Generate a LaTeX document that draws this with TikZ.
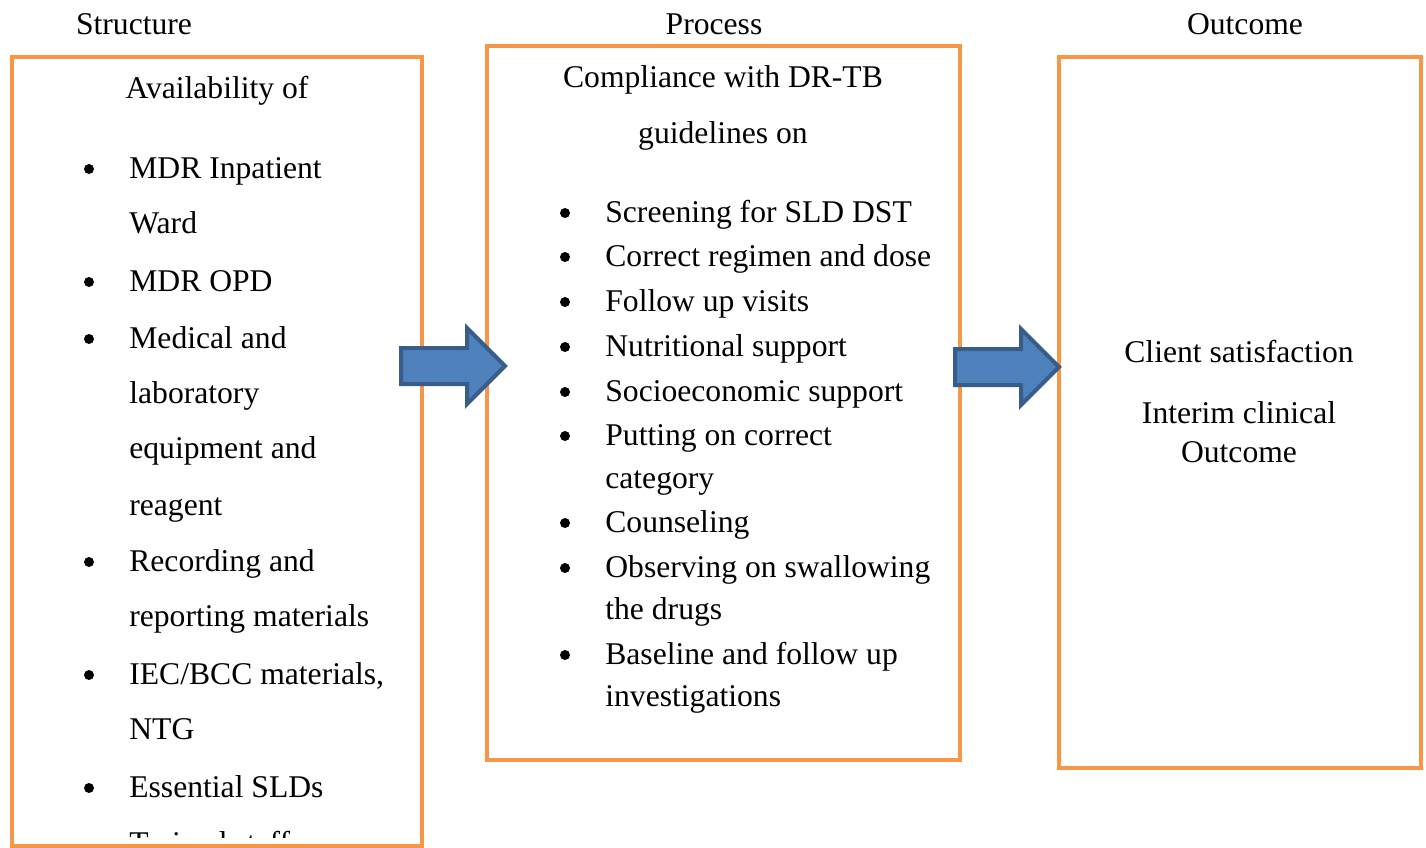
\documentclass[tikz,border=0pt]{standalone}
\usepackage{fontspec}
\setmainfont{Liberation Serif}
\usetikzlibrary{positioning}
\definecolor{frameorange}{HTML}{F79646}
\definecolor{flowfill}{HTML}{4F81BD}
\definecolor{flowline}{HTML}{385D8A}
\tikzstyle{frame} = [rectangle, draw=frameorange, line width=0.08cm, anchor=north west, inner sep=0pt, outer sep=0pt]
\tikzstyle{head} = [anchor=base, inner sep=0pt]
\tikzstyle{item} = [anchor=base west, inner sep=0pt]
\tikzstyle{dot} = [circle, fill=black, inner sep=0pt, minimum size=0.2cm]
\tikzstyle{flow} = [draw=flowline, fill=flowfill, line width=0.08cm, line join=miter]

\begin{document}
\begin{tikzpicture}[x=0.02cm, y=-0.02cm, every node/.style={font=\fontsize{18}{22}\selectfont}]
\useasboundingbox (0,0) rectangle (1426,848);

% the three frames
\node (structure) [frame, minimum width=8.2cm, minimum height=15.78cm] at (12,57) {};
\node (process) [frame, minimum width=9.46cm, minimum height=14.28cm] at (487,46) {};
\node (outcome) [frame, minimum width=7.24cm, minimum height=14.22cm] at (1059,57) {};

\node (structhead) [head] at (134,35) {Structure};
\node (prochead) [head] at (714,35) {Process};
\node (outhead) [head] at (1245,35) {Outcome};

% structure column
\node (avail) [head] at (217,99) {Availability of};
\foreach \y/\t [count=\i] in {178/MDR Inpatient, 233/Ward, 291/MDR OPD, 348/Medical and,
    403/laboratory, 458/equipment and, 515/reagent, 571/Recording and,
    626/reporting materials, 684/{IEC/BCC materials,}, 739/NTG, 797/Essential SLDs}
  \node (s\i) [item] at (129,\y) {\t};
\foreach \y in {178,291,348,571,684,797}
  \node [dot] at (89,\y-9) {};
\begin{scope}
\clip (12,57) rectangle (422,837);
\node (s13) [item] at (129,853) {Trained staff};
\end{scope}

% process column
\node (comply) [head] at (723,88) {Compliance with DR-TB};
\node (guide) [head] at (723,143) {guidelines on};
\foreach \y/\t [count=\i] in {222/Screening for SLD DST, 266/Correct regimen and dose,
    311/Follow up visits, 356/Nutritional support, 401/Socioeconomic support,
    445/Putting on correct, 488/category, 532/Counseling, 577/Observing on swallowing,
    619/the drugs, 664/Baseline and follow up, 706/investigations}
  \node (p\i) [item] at (605,\y) {\t};
\foreach \y in {222,266,311,356,401,445,532,577,664}
  \node [dot] at (565,\y-9) {};

% outcome column
\node (client) [head] at (1239,362) {Client satisfaction};
\node (interim) [head] at (1239,423) {Interim clinical};
\node (outc) [head] at (1239,462) {Outcome};

% block arrows between frames
\foreach \x/\y in {401/366, 955/367}
  \draw [flow] (\x,\y-18) -- ++(66,0) -- ++(0,-20) -- ++(38,38) -- ++(-38,38)
    -- ++(0,-20) -- ++(-66,0) -- cycle;

\end{tikzpicture}
\end{document}
